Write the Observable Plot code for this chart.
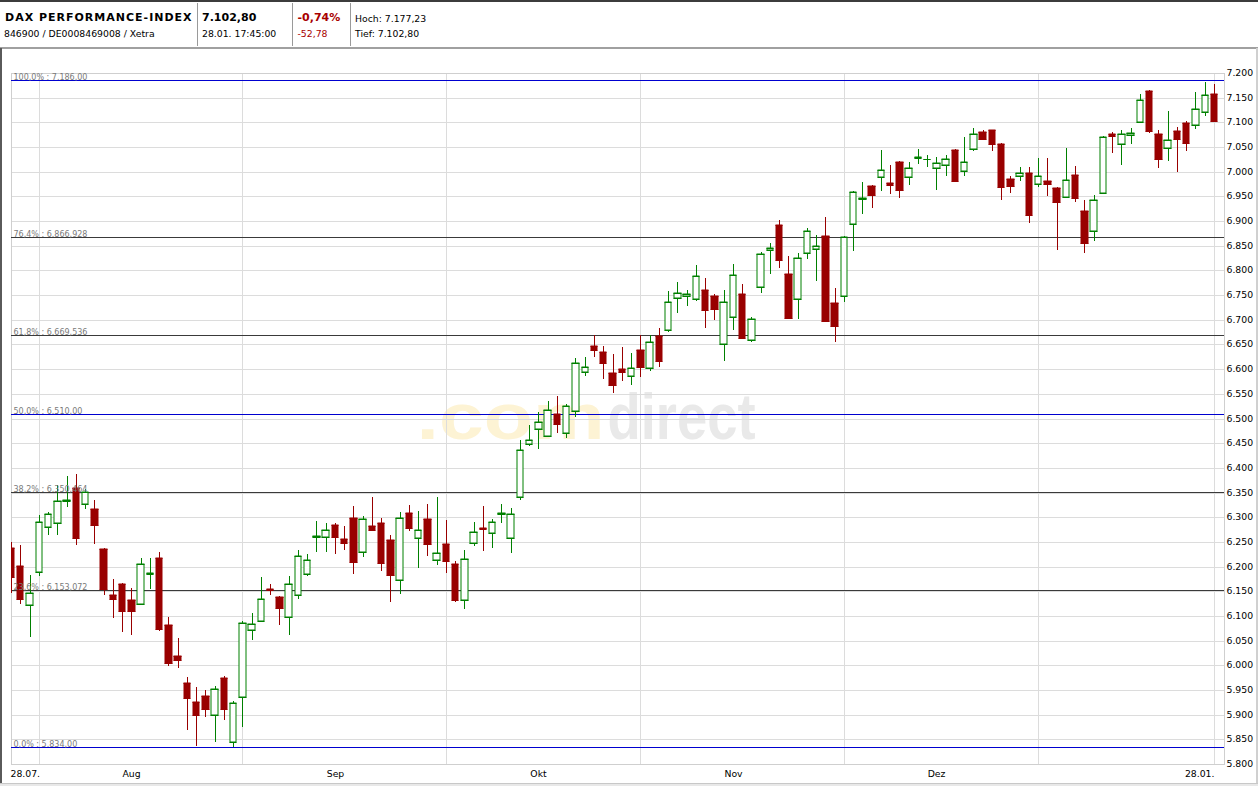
<!DOCTYPE html>
<html><head><meta charset="utf-8">
<script src="https://cdn.jsdelivr.net/npm/d3@7"></script>
<script src="https://cdn.jsdelivr.net/npm/@observablehq/plot@0.6"></script>
<style>
html,body{margin:0;padding:0;background:#fff;}
#page{position:relative;width:1258px;height:786px;overflow:hidden;background:#fff;}
.s{position:absolute;font-family:"DejaVu Sans",sans-serif;font-size:9.3px;line-height:1;white-space:nowrap;color:#000;}
.b{font-weight:bold;font-size:11px;}
.red{color:#a80000;}
.ln{position:absolute;}
#chart{position:absolute;left:0;top:48px;}
</style>
</head><body>
<div id="page">
  <div class="ln" style="left:0;top:0;width:1258px;height:2px;background:#3c3c3c"></div>
  <div class="s b" style="left:5px;top:11.7px;letter-spacing:1px">DAX PERFORMANCE-INDEX</div>
  <div class="s b" style="left:202px;top:11.7px">7.102,80</div>
  <div class="s b red" style="left:297.5px;top:11.7px">-0,74%</div>
  <div class="s" style="left:355px;top:13.8px">Hoch: 7.177,23</div>
  <div class="s" style="left:4px;top:28.8px">846900 / DE0008469008 / Xetra</div>
  <div class="s" style="left:202px;top:28.8px">28.01. 17:45:00</div>
  <div class="s red" style="left:297.5px;top:28.8px">-52,78</div>
  <div class="s" style="left:355px;top:28.8px">Tief: 7.102,80</div>
  <div class="ln" style="left:197px;top:3px;width:1px;height:43px;background:#9a9a9a"></div>
  <div class="ln" style="left:292px;top:3px;width:1px;height:43px;background:#9a9a9a"></div>
  <div class="ln" style="left:350px;top:3px;width:1px;height:43px;background:#9a9a9a"></div>
  <div id="chart"></div>
  <div class="ln" style="left:0;top:47px;width:1258px;height:2px;background:#a0a0a0"></div>
  <div class="ln" style="left:0;top:48px;width:2px;height:738px;background:#5a5a5a"></div>
  <div class="ln" style="left:1256px;top:48px;width:2px;height:738px;background:#d0d0d0"></div>
  <div class="ln" style="left:0;top:783px;width:1258px;height:3px;background:#e8e8e8;border-top:1px solid #c8c8c8"></div>
</div>
<script>
// ---- data: DAX daily OHLC, 28.07. - 28.01. (trading-day index) ----
const openP = [6238.6, 6202.1, 6123.1, 6188.0, 6279.2, 6287.3, 6332.0, 6359.6, 6325.8, 6315.7,
6235.2, 6142.0, 6164.3, 6133.2, 6125.1, 6184.5, 6217.0, 6081.2, 6018.3, 5963.6,
5925.1, 5937.3, 5900.1, 5973.8, 5845.4, 5936.6, 6072.5, 6090.7, 6155.0, 6138.0,
6098.8, 6141.4, 6185.2, 6259.0, 6260.2, 6283.9, 6255.5, 6298.1, 6230.5, 6281.8,
6287.9, 6253.5, 6173.7, 6308.2, 6258.9, 6295.4, 6214.3, 6245.4, 6204.8, 6131.8,
6248.7, 6279.1, 6269.0, 6307.0, 6256.9, 6340.0, 6447.5, 6477.9, 6464.4, 6509.6,
6469.8, 6514.4, 6594.8, 6646.8, 6634.6, 6592.1, 6599.5, 6585.3, 6638.7, 6601.5,
6667.1, 6678.5, 6743.4, 6747.4, 6741.3, 6760.3, 6748.1, 6650.1, 6704.8, 6751.5,
6658.2, 6765.7, 6840.7, 6892.0, 6792.7, 6741.3, 6834.6, 6842.7, 6869.7, 6733.2,
6748.8, 6894.7, 6945.0, 6971.1, 6988.7, 6977.2, 7019.7, 6988.7, 7027.0, 7025.0,
7006.9, 7013.0, 7044.1, 7000.8, 7045.4, 7080.6, 7084.6, 7056.2, 6985.3, 6990.7,
6997.4, 6974.5, 6981.3, 6967.1, 6949.5, 6993.5, 6920.5, 6879.3, 6957.6, 7076.6,
7055.6, 7073.9, 7100.2, 7163.7, 7076.6, 7047.5, 7082.0, 7098.9, 7094.8, 7121.2,
7157.0];
const highP = [6249.4, 6242.7, 6183.9, 6303.5, 6310.9, 6365.0, 6383.2, 6387.3, 6356.9, 6334.6,
6237.3, 6174.4, 6167.7, 6156.2, 6217.0, 6217.0, 6229.2, 6097.4, 6054.8, 5976.5,
5955.5, 5950.1, 5957.5, 5977.8, 5927.1, 6089.3, 6105.6, 6177.9, 6165.7, 6140.0,
6180.6, 6233.2, 6225.1, 6292.0, 6287.9, 6288.6, 6281.8, 6322.4, 6302.1, 6340.6,
6298.1, 6264.3, 6310.2, 6324.4, 6312.3, 6326.5, 6340.6, 6294.0, 6210.9, 6233.2,
6290.0, 6322.4, 6296.0, 6326.5, 6317.7, 6456.3, 6486.0, 6513.0, 6535.3, 6545.4,
6529.2, 6622.5, 6624.5, 6669.8, 6646.8, 6631.3, 6644.8, 6633.3, 6669.8, 6669.8,
6683.3, 6758.2, 6776.5, 6760.3, 6810.9, 6784.6, 6752.2, 6760.3, 6813.0, 6771.7,
6704.8, 6836.6, 6855.5, 6902.2, 6828.5, 6835.3, 6885.9, 6872.4, 6908.9, 6764.3,
6869.7, 6960.0, 6979.2, 6972.4, 7044.1, 7013.7, 7021.8, 7019.1, 7046.1, 7033.9,
7029.2, 7034.6, 7045.5, 7070.4, 7088.7, 7084.0, 7085.5, 7058.3, 6991.4, 7009.6,
7009.6, 7028.6, 7028.6, 6969.8, 7048.9, 7011.7, 6942.8, 6952.9, 7072.5, 7081.3,
7084.7, 7088.1, 7157.6, 7165.8, 7084.7, 7123.2, 7090.8, 7102.9, 7161.7, 7182.0,
7177.2];
const lowP = [6146.7, 6123.8, 6057.5, 6181.2, 6264.3, 6264.3, 6321.1, 6244.0, 6317.0, 6245.4,
6142.0, 6096.1, 6067.7, 6061.6, 6122.4, 6154.2, 6069.7, 5998.1, 5994.0, 5868.4,
5836.6, 5895.4, 5844.7, 5890.0, 5834.0, 5875.1, 6052.2, 6088.0, 6141.4, 6081.9,
6061.6, 6133.3, 6181.2, 6229.8, 6229.8, 6225.8, 6233.9, 6185.2, 6219.7, 6272.0,
6191.3, 6128.5, 6144.7, 6272.4, 6197.4, 6222.4, 6203.5, 6187.9, 6129.1, 6115.0,
6242.0, 6231.8, 6237.9, 6288.6, 6227.8, 6335.3, 6444.0, 6438.7, 6462.3, 6471.1,
6461.0, 6503.5, 6586.7, 6624.5, 6580.6, 6551.5, 6575.8, 6568.4, 6584.0, 6596.8,
6604.9, 6675.8, 6712.9, 6728.5, 6738.0, 6683.9, 6699.4, 6617.0, 6679.9, 6661.0,
6654.2, 6754.9, 6793.4, 6805.5, 6702.0, 6702.2, 6823.8, 6779.2, 6696.0, 6655.5,
6736.6, 6840.0, 6915.0, 6927.2, 6961.6, 6955.5, 6947.4, 6973.8, 7016.4, 7010.3,
6963.7, 6992.0, 6979.9, 6992.0, 7042.1, 7067.0, 7042.7, 6942.7, 6957.6, 6981.9,
6896.8, 6969.8, 6950.9, 6841.4, 6948.0, 6939.4, 6836.0, 6860.3, 6955.0, 7037.4,
7014.4, 7055.6, 7099.0, 7077.9, 7008.3, 7022.5, 7000.2, 7042.8, 7086.7, 7113.7,
7102.8];
const closeP = [6179.2, 6134.6, 6147.4, 6291.3, 6307.5, 6331.9, 6334.0, 6258.2, 6351.5, 6284.6,
6154.2, 6134.6, 6110.2, 6110.2, 6206.2, 6186.0, 6073.8, 6004.8, 6010.9, 5933.9,
5899.4, 5911.6, 5951.5, 5911.6, 5924.4, 6085.2, 6084.6, 6135.3, 6153.0, 6116.4,
6163.7, 6222.4, 6214.3, 6261.0, 6275.1, 6260.2, 6248.1, 6209.6, 6295.4, 6274.4,
6207.5, 6183.2, 6297.4, 6278.5, 6275.1, 6246.7, 6228.5, 6212.3, 6133.2, 6216.3,
6271.0, 6276.4, 6291.3, 6309.0, 6305.5, 6435.3, 6456.3, 6492.1, 6516.4, 6489.4,
6524.5, 6611.7, 6604.9, 6639.4, 6613.0, 6568.4, 6594.8, 6601.5, 6604.9, 6654.2,
6617.1, 6735.3, 6753.5, 6751.5, 6788.0, 6720.4, 6722.4, 6735.3, 6790.0, 6663.6,
6700.8, 6832.6, 6844.7, 6821.1, 6704.2, 6824.5, 6879.2, 6848.8, 6698.1, 6688.0,
6867.0, 6958.2, 6947.0, 6953.5, 7002.8, 6973.8, 6963.7, 7006.9, 7029.0, 7026.5,
7017.0, 7025.2, 6981.9, 7019.1, 7077.2, 7067.0, 7056.9, 6969.7, 6971.8, 6997.4,
6913.0, 6991.4, 6975.9, 6939.4, 6983.3, 6947.5, 6856.3, 6942.1, 7069.8, 7073.2,
7075.9, 7077.9, 7144.8, 7083.3, 7025.2, 7063.7, 7067.1, 7059.0, 7127.9, 7155.6,
7102.8];

// month boundaries (first trading day index) and axis labels
const gridIdx = [0, 3, 25, 47, 68, 90, 111, 130];
const xLabelIdx = [0, 13, 35, 57, 78, 100, 130];
const xLabelText = ["28.07.", "Aug", "Sep", "Okt", "Nov", "Dez", "28.01."];
const yTickValues = [5800, 5850, 5900, 5950, 6000, 6050, 6100, 6150, 6200, 6250, 6300, 6350, 6400, 6450,
  6500, 6550, 6600, 6650, 6700, 6750, 6800, 6850, 6900, 6950, 7000, 7050, 7100, 7150, 7200];

// Fibonacci retracement levels
const fibValues = [7186, 6866.928, 6669.536, 6510, 6350.464, 6153.072, 5834];
const fibLabels = ["100,0% : 7.186,00", "76,4% : 6.866,928", "61,8% : 6.669,536", "50,0% : 6.510,00",
  "38,2% : 6.350,464", "23,6% : 6.153,072", "0,0% : 5.834,00"];
const fibColors = ["#0000d0", "#3a3a3a", "#3a3a3a", "#0000d0", "#3a3a3a", "#3a3a3a", "#0000d0"];

const watermark = [".com", "direct"];

// ---- build ----
const UP = "#008000", DOWN = "#990000";
const candles = openP.map((o, i) => ({i, open: o, high: highP[i], low: lowP[i], close: closeP[i]}));
const col = d => d.close >= d.open ? UP : DOWN;
const fib = fibValues.map((v, k) => ({value: v, label: fibLabels[k], color: fibColors[k]}));
const xl = xLabelIdx.map((x, k) => ({x, text: xLabelText[k]}));
const deFmt = v => d3.format(",")(v).replace(/,/g, ".");
const hw = 0.35;

const common = {fontFamily: "DejaVu Sans", fontSize: 9.3, fill: "#000"};

const chart = Plot.plot({
  width: 1258, height: 738,
  marginTop: 25, marginBottom: 22, marginLeft: 11, marginRight: 34,
  x: {domain: [0, 131.08], round: true, axis: null},
  y: {domain: [5800, 7200], round: true, axis: null},
  color: {type: "identity"},
  style: {background: "transparent", fontFamily: "DejaVu Sans", fontSize: "9.3px", color: "#000", overflow: "visible"},
  marks: [
    Plot.text([watermark[0]], {text: d => d, frameAnchor: "middle", textAnchor: "end", lineAnchor: "bottom",
      dx: -13.5, dy: 19.5, fill: "#fdf3d4", fontSize: 64, fontWeight: "bold", fontFamily: "Liberation Sans"}),
    Plot.text([watermark[1]], {text: d => d, frameAnchor: "middle", textAnchor: "start", lineAnchor: "bottom",
      dx: -10.5, dy: 19.5, fill: "#e9e9e9", fontSize: 64, fontWeight: "bold", fontFamily: "Liberation Sans"}),
    Plot.ruleY(yTickValues, {stroke: "#dcdcdc"}),
    Plot.ruleX(gridIdx, {stroke: "#dcdcdc"}),
    Plot.frame({stroke: "#cfcfcf"}),
    Plot.ruleY(fib, {y: "value", stroke: "color"}),
    Plot.ruleX(candles, {x: "i", y1: "low", y2: "high", stroke: col, clip: true}),
    Plot.rect(candles, {x1: d => d.i - hw, x2: d => d.i + hw, y1: "open", y2: "close",
      fill: d => d.close >= d.open ? "#ffffff" : DOWN, stroke: col, clip: true}),
    Plot.ruleY(candles, {y: "open", x1: d => d.i - hw, x2: d => d.i + hw, stroke: col, strokeLinecap: "square", clip: true}),
    Plot.ruleY(candles, {y: "close", x1: d => d.i - hw, x2: d => d.i + hw, stroke: col, strokeLinecap: "square", clip: true}),
    Plot.text(fib, {y: "value", text: "label", frameAnchor: "left", textAnchor: "start", lineAnchor: "bottom",
      dx: 2, dy: -1, fill: "#7a7a7a", fontSize: 8, fontFamily: "DejaVu Sans"}),
    Plot.axisY(yTickValues, {anchor: "right", tickSize: 0, tickPadding: 2, tickFormat: deFmt, fontSize: 9.3, label: null}),
    Plot.text(xl.slice(0, 1), {x: "x", text: "text", frameAnchor: "bottom", textAnchor: "start", lineAnchor: "middle", dy: 9.5, dx: -1, ...common}),
    Plot.text(xl.slice(1, -1), {x: "x", text: "text", frameAnchor: "bottom", textAnchor: "middle", lineAnchor: "middle", dy: 9.5, ...common}),
    Plot.text(xl.slice(-1), {x: "x", text: "text", frameAnchor: "bottom", textAnchor: "end", lineAnchor: "middle", dy: 9.5, ...common})
  ]
});
document.getElementById("chart").appendChild(chart);

// squeeze watermark words to their drawn widths
d3.select(chart).selectAll("text").each(function () {
  const t = this.textContent;
  if (t === watermark[0]) { this.setAttribute("textLength", 188); this.setAttribute("lengthAdjust", "spacingAndGlyphs"); }
  if (t === watermark[1]) { this.setAttribute("textLength", 148); this.setAttribute("lengthAdjust", "spacingAndGlyphs"); }
});
</script>
</body></html>
